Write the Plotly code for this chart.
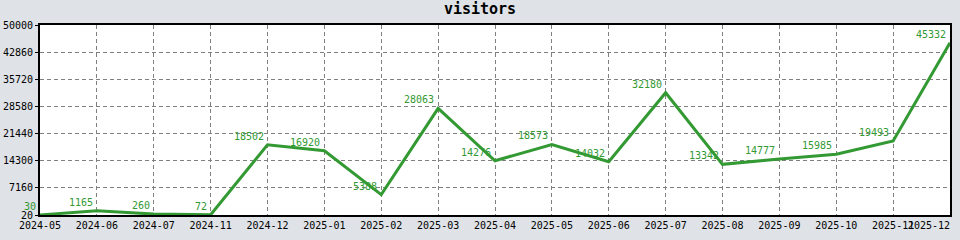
import plotly.graph_objects as go

months = ["2024-05", "2024-06", "2024-07", "2024-11", "2024-12", "2025-01", "2025-02",
          "2025-03", "2025-04", "2025-05", "2025-06", "2025-07", "2025-08", "2025-09",
          "2025-10", "2025-11", "2025-12"]
visitors = [30, 1165, 260, 72, 18502, 16920, 5388, 28063, 14276, 18573, 14032,
            32180, 13342, 14777, 15985, 19493, 45332]
y_ticks = [20, 7160, 14300, 21440, 28580, 35720, 42860, 50000]

FONT = "DejaVu Sans Mono"
GREEN = "#339933"
idx = list(range(len(months)))
tick_text = list(months)
tick_text[-1] = tick_text[-1] + "\u00a0" * 7

fig = go.Figure()
fig.add_trace(go.Scatter(
    x=idx, y=visitors, mode="lines",
    line=dict(color=GREEN, width=3), cliponaxis=False, hoverinfo="skip",
))
for i, v in zip(idx, visitors):
    fig.add_annotation(
        x=i, y=v, text=str(v), showarrow=False,
        xanchor="right", yanchor="bottom", xshift=-2, yshift=1,
        font=dict(family=FONT, size=10, color=GREEN),
    )

fig.update_layout(
    width=960, height=240,
    margin=dict(l=40, r=10, t=25, b=25),
    paper_bgcolor="#dfe2e6", plot_bgcolor="#ffffff",
    showlegend=False,
    title=dict(text="<b>visitors</b>", x=0.5, xanchor="center", y=0.965, yanchor="middle",
               font=dict(family=FONT, size=15, color="#000000")),
    font=dict(family=FONT, size=10, color="#000000"),
)
fig.update_xaxes(
    range=[0, len(months) - 1], tickmode="array", tickvals=idx, ticktext=tick_text,
    showgrid=True, gridcolor="#808080", griddash="4px,3px", gridwidth=1,
    showline=True, linecolor="#000000", linewidth=2, mirror=True,
    ticks="", ticklabeloverflow="allow", tickangle=0, automargin=False,
    tickfont=dict(family=FONT, size=10, color="#000000"), zeroline=False,
)
fig.update_yaxes(
    range=[20, 50000], tickmode="array", tickvals=y_ticks,
    ticktext=[str(v) for v in y_ticks],
    showgrid=True, gridcolor="#808080", griddash="4px,3px", gridwidth=1,
    showline=True, linecolor="#000000", linewidth=2, mirror=True,
    ticks="outside", ticklen=3, tickcolor="#000000", ticklabelstandoff=0,
    automargin=False,
    tickfont=dict(family=FONT, size=10, color="#000000"), zeroline=False,
)

fig.write_html("out.html")
